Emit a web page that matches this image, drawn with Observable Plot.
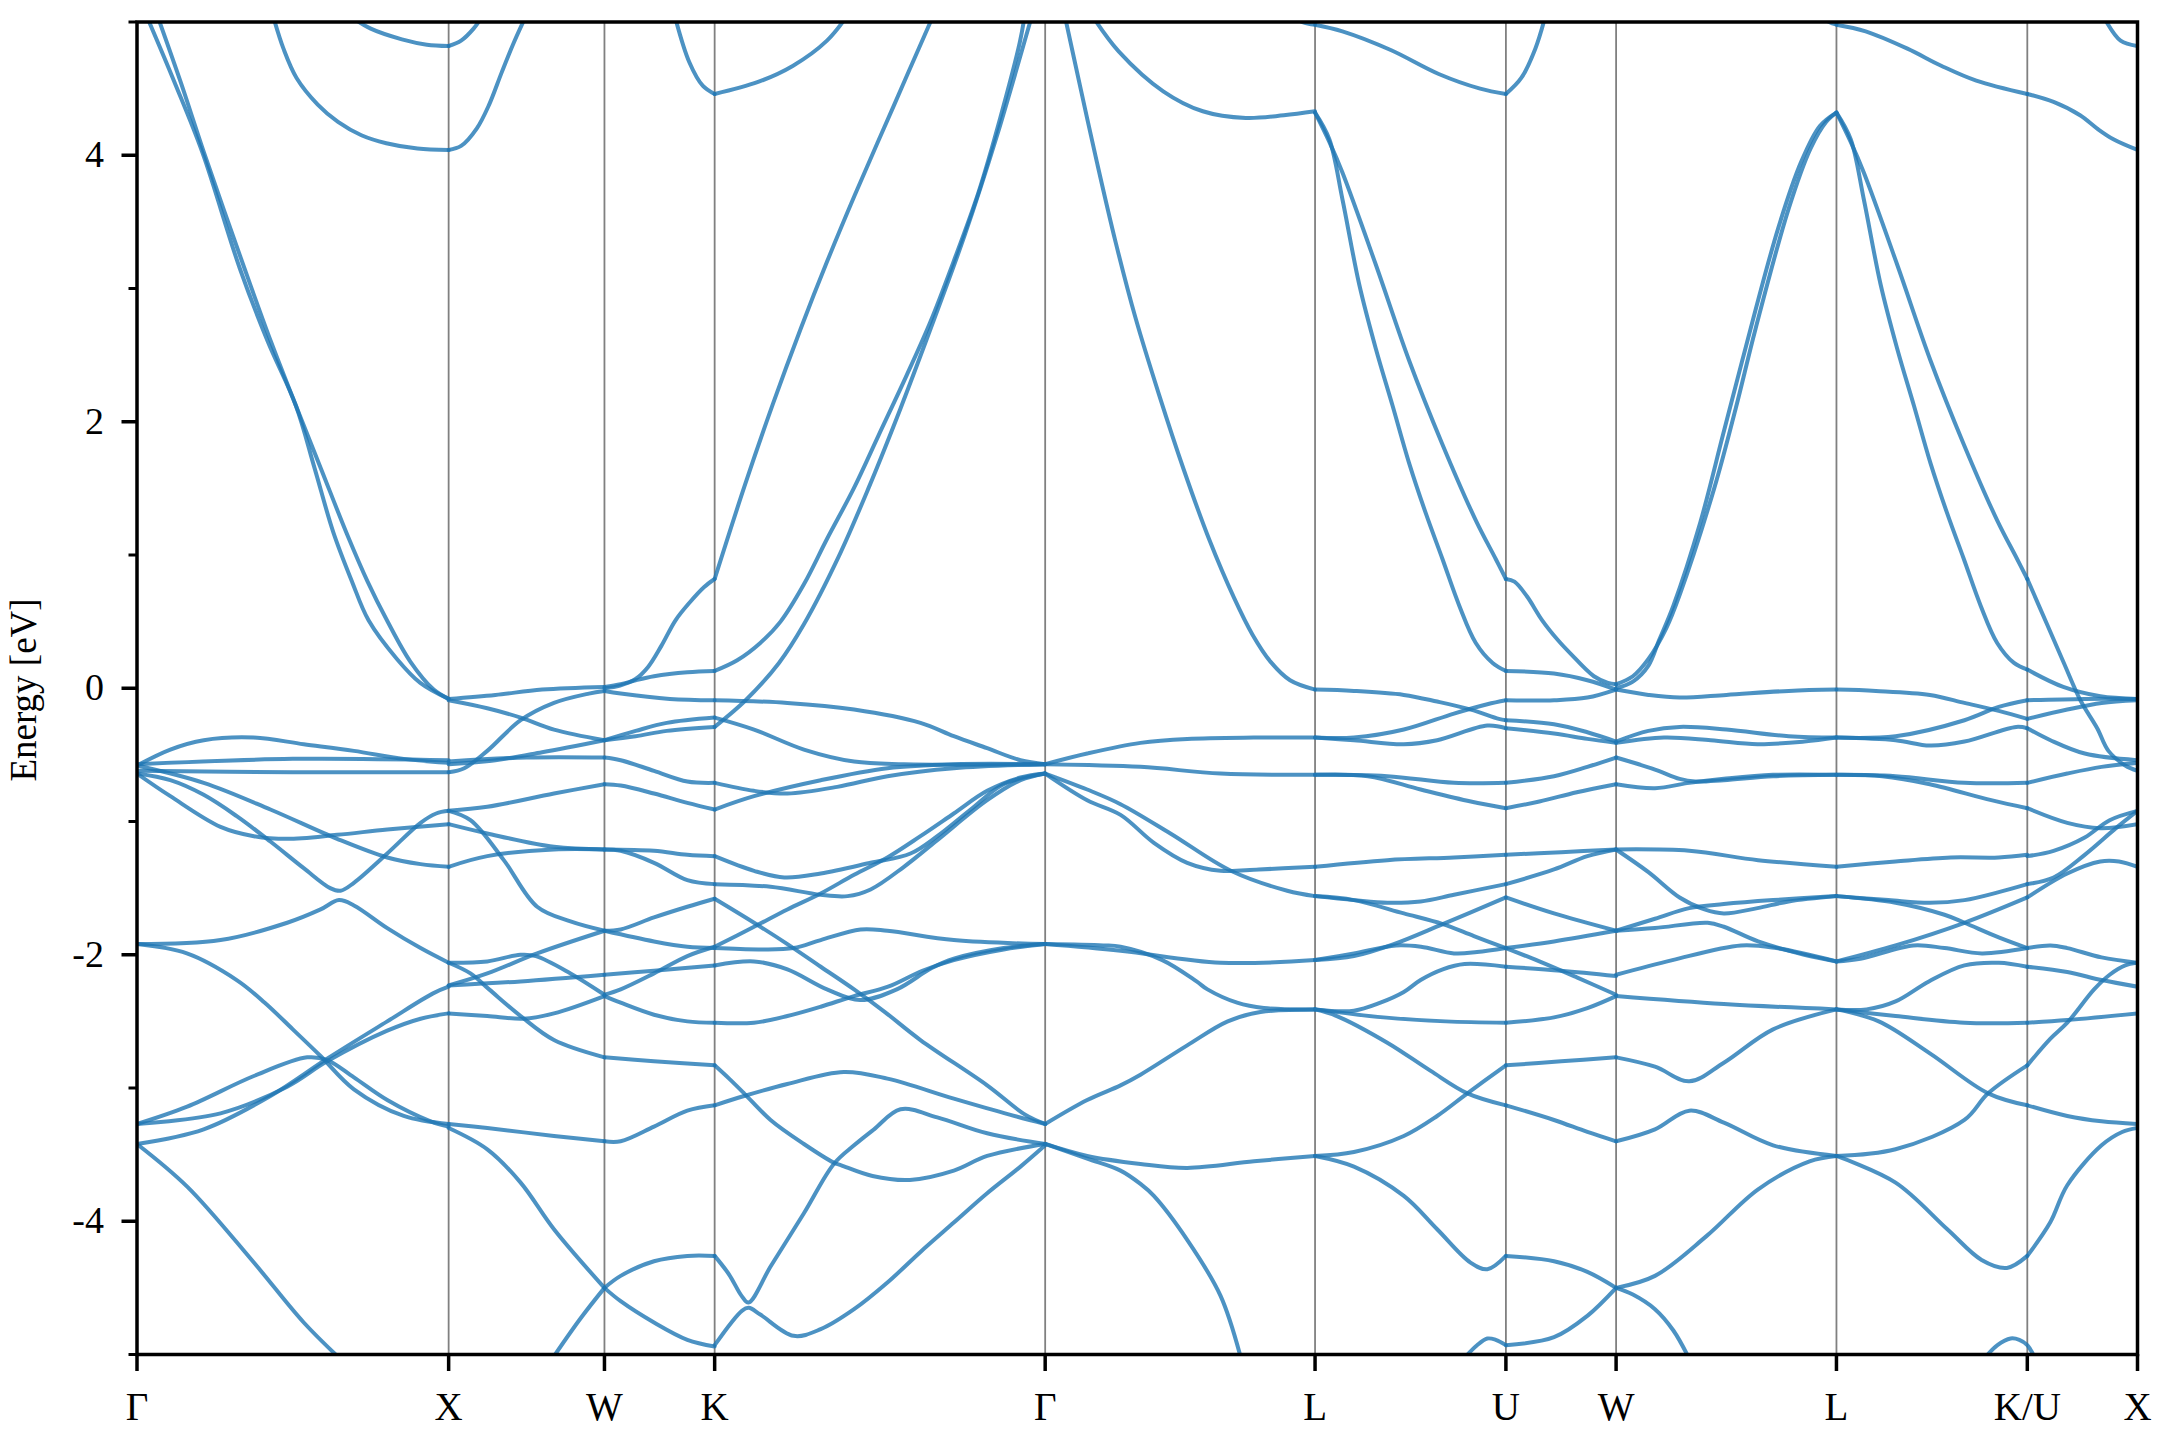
<!DOCTYPE html>
<html><head><meta charset="utf-8">
<script src="https://cdn.jsdelivr.net/npm/d3@7"></script>
<script src="https://cdn.jsdelivr.net/npm/@observablehq/plot@0.6"></script>
<style>html,body{margin:0;padding:0;background:#fff;}</style>
</head><body><div id="chart"></div>
<script>
// High-symmetry points along the k-path (cumulative path length, 2π/a units)
const symLabels = ["Γ","X","W","K","Γ","L","U","W","L","K/U","X"];
const symK = [0, 1, 1.5, 1.8536, 2.9142, 3.7802, 4.3926, 4.7462, 5.4533, 6.0657, 6.4193];
const yMajor = [-4, -2, 0, 2, 4];
const yMinor = [-5, -3, -1, 1, 3, 5];
const yLabel = "Energy [eV]";

// Band curves, one array per path segment; each curve is a list of [k, E(eV)]
const seg_G_X = [
 [[0.03,5.05],[0.12,4.55],[0.21,4.02],[0.33,3.15],[0.42,2.6],[0.51,2.12],[0.57,1.65],[0.63,1.17],[0.69,0.8],[0.743,0.51],[0.834,0.22],[0.909,0.04],[1,-0.08]],
 [[0.065,5.05],[0.14,4.55],[0.215,4.02],[0.345,3.15],[0.43,2.6],[0.51,2.12],[0.59,1.65],[0.675,1.15],[0.74,0.8],[0.802,0.51],[0.877,0.2],[0.952,-0.01],[1,-0.08]],
 [[0.436,5.05],[0.47,4.8],[0.512,4.58],[0.58,4.38],[0.645,4.25],[0.72,4.15],[0.8,4.09],[0.9,4.05],[1,4.04]],
 [[0.68,5.05],[0.75,4.95],[0.85,4.87],[0.93,4.83],[1,4.82]],
 [[0,-0.58],[0.107,-0.46],[0.214,-0.39],[0.375,-0.37],[0.535,-0.42],[0.696,-0.47],[0.856,-0.53],[1,-0.56]],
 [[0,-0.57],[0.5,-0.53],[1,-0.54]],
 [[0,-0.62],[0.5,-0.63],[1,-0.63]],
 [[0,-0.64],[0.107,-0.69],[0.214,-0.8],[0.32,-0.96],[0.428,-1.15],[0.535,-1.35],[0.62,-1.5],[0.653,-1.52],[0.696,-1.46],[0.803,-1.24],[0.91,-1.01],[0.96,-0.94],[1,-0.92]],
 [[0,-0.64],[0.107,-0.81],[0.268,-1.04],[0.375,-1.11],[0.482,-1.13],[0.642,-1.1],[0.803,-1.06],[1,-1.02]],
 [[0,-0.58],[0.214,-0.71],[0.428,-0.91],[0.642,-1.13],[0.803,-1.27],[0.91,-1.32],[1,-1.34]],
 [[0,-1.92],[0.268,-1.89],[0.482,-1.76],[0.589,-1.66],[0.648,-1.59],[0.696,-1.63],[0.803,-1.8],[0.91,-1.95],[1,-2.06]],
 [[0,-1.92],[0.16,-1.99],[0.32,-2.19],[0.41,-2.36],[0.5,-2.56],[0.589,-2.76],[0.696,-3.01],[0.856,-3.21],[1,-3.27]],
 [[0,-3.27],[0.161,-3.14],[0.375,-2.91],[0.546,-2.77],[0.61,-2.79],[0.696,-2.92],[0.803,-3.09],[0.942,-3.25],[1,-3.29]],
 [[0,-3.27],[0.268,-3.19],[0.482,-2.99],[0.61,-2.8],[0.803,-2.57],[0.91,-2.48],[1,-2.44]],
 [[0,-3.42],[0.214,-3.31],[0.428,-3.06],[0.61,-2.78],[0.803,-2.5],[0.95,-2.29],[1,-2.24]],
 [[0,-3.42],[0.161,-3.74],[0.375,-4.31],[0.535,-4.76],[0.66,-5.05]]
];
const seg_X_W = [
 [[1,4.04],[1.04,4.07],[1.09,4.2],[1.13,4.38],[1.17,4.62],[1.21,4.85],[1.253,5.07]],
 [[1,4.82],[1.04,4.86],[1.08,4.95],[1.11,5.05]],
 [[1,-0.08],[1.15,-0.05],[1.3,-0.01],[1.5,0.01]],
 [[1,-0.09],[1.124,-0.15],[1.231,-0.22],[1.338,-0.31],[1.5,-0.39]],
 [[1,-0.63],[1.05,-0.6],[1.124,-0.47],[1.231,-0.24],[1.338,-0.11],[1.45,-0.04],[1.5,-0.02]],
 [[1,-0.57],[1.15,-0.54],[1.3,-0.48],[1.5,-0.39]],
 [[1,-0.55],[1.25,-0.52],[1.5,-0.52]],
 [[1,-0.92],[1.124,-0.89],[1.338,-0.79],[1.5,-0.72]],
 [[1,-1.02],[1.124,-1.09],[1.338,-1.19],[1.5,-1.21]],
 [[1,-1.34],[1.124,-1.26],[1.338,-1.21],[1.5,-1.21]],
 [[1,-0.92],[1.07,-0.99],[1.177,-1.29],[1.284,-1.64],[1.391,-1.75],[1.5,-1.82]],
 [[1,-2.06],[1.124,-2.05],[1.23,-2.0],[1.28,-2.01],[1.391,-2.14],[1.5,-2.3]],
 [[1,-2.06],[1.07,-2.14],[1.13,-2.26],[1.231,-2.46],[1.338,-2.64],[1.5,-2.77]],
 [[1,-2.23],[1.124,-2.14],[1.284,-1.99],[1.5,-1.82]],
 [[1,-2.23],[1.231,-2.2],[1.5,-2.15]],
 [[1,-2.44],[1.124,-2.46],[1.24,-2.48],[1.338,-2.44],[1.5,-2.31]],
 [[1,-3.27],[1.124,-3.3],[1.338,-3.36],[1.5,-3.4]],
 [[1,-3.3],[1.124,-3.46],[1.231,-3.71],[1.338,-4.06],[1.5,-4.5]],
 [[1.327,-5.05],[1.423,-4.73],[1.5,-4.5]]
];
const seg_W_K = [
 [[1.725,5.05],[1.772,4.7],[1.816,4.52],[1.8536,4.46]],
 [[1.5,0.01],[1.552,0.03],[1.6,0.06],[1.659,0.09],[1.766,0.12],[1.8536,0.13]],
 [[1.5,0.0],[1.55,0.02],[1.6,0.07],[1.64,0.16],[1.683,0.32],[1.728,0.51],[1.772,0.64],[1.82,0.76],[1.8536,0.82]],
 [[1.5,-0.02],[1.552,-0.04],[1.71,-0.08],[1.8536,-0.09]],
 [[1.5,-0.39],[1.6,-0.32],[1.7,-0.26],[1.8536,-0.22]],
 [[1.5,-0.39],[1.6,-0.36],[1.7,-0.32],[1.8536,-0.29]],
 [[1.5,-0.52],[1.552,-0.54],[1.659,-0.62],[1.766,-0.7],[1.8536,-0.71]],
 [[1.5,-0.72],[1.552,-0.73],[1.659,-0.79],[1.766,-0.86],[1.8536,-0.91]],
 [[1.5,-1.21],[1.659,-1.22],[1.766,-1.25],[1.8536,-1.26]],
 [[1.5,-1.21],[1.552,-1.22],[1.659,-1.31],[1.766,-1.44],[1.8536,-1.47]],
 [[1.5,-1.82],[1.552,-1.81],[1.659,-1.72],[1.766,-1.64],[1.8536,-1.58]],
 [[1.5,-1.82],[1.659,-1.9],[1.766,-1.94],[1.8536,-1.95]],
 [[1.5,-2.3],[1.552,-2.26],[1.659,-2.14],[1.766,-2.01],[1.8536,-1.94]],
 [[1.5,-2.15],[1.659,-2.12],[1.8536,-2.08]],
 [[1.5,-2.31],[1.552,-2.36],[1.659,-2.45],[1.766,-2.5],[1.8536,-2.51]],
 [[1.5,-2.77],[1.659,-2.8],[1.8536,-2.83]],
 [[1.5,-3.4],[1.552,-3.4],[1.659,-3.29],[1.766,-3.17],[1.8536,-3.13]],
 [[1.5,-4.5],[1.552,-4.41],[1.659,-4.3],[1.766,-4.26],[1.8536,-4.26]],
 [[1.5,-4.5],[1.552,-4.6],[1.659,-4.76],[1.766,-4.89],[1.8536,-4.94]]
];
const seg_K_G = [
 [[1.8536,4.46],[1.993,4.55],[2.104,4.67],[2.214,4.86],[2.28,5.05]],
 [[1.8536,0.82],[1.95,1.52],[2.04,2.13],[2.13,2.7],[2.214,3.2],[2.303,3.7],[2.43,4.38],[2.546,5.0],[2.56,5.07]],
 [[1.8536,0.13],[1.926,0.21],[2.0,0.34],[2.065,0.5],[2.14,0.78],[2.214,1.12],[2.3,1.5],[2.38,1.9],[2.47,2.35],[2.546,2.75],[2.62,3.2],[2.7,3.72],[2.77,4.28],[2.833,4.85],[2.85,5.07]],
 [[1.8536,-0.29],[1.953,-0.09],[2.06,0.19],[2.14,0.48],[2.25,0.98],[2.347,1.5],[2.45,2.1],[2.55,2.72],[2.656,3.4],[2.76,4.15],[2.866,5.0],[2.875,5.07]],
 [[1.8536,-0.09],[2.087,-0.11],[2.301,-0.16],[2.514,-0.26],[2.621,-0.36],[2.728,-0.45],[2.835,-0.54],[2.9142,-0.57]],
 [[1.8536,-0.22],[1.98,-0.31],[2.14,-0.46],[2.301,-0.55],[2.461,-0.57],[2.9142,-0.57]],
 [[1.8536,-0.71],[1.98,-0.77],[2.087,-0.79],[2.247,-0.74],[2.408,-0.66],[2.621,-0.6],[2.9142,-0.57]],
 [[1.8536,-0.91],[1.98,-0.81],[2.194,-0.69],[2.408,-0.6],[2.621,-0.57],[2.9142,-0.57]],
 [[1.8536,-1.26],[1.98,-1.37],[2.077,-1.42],[2.194,-1.39],[2.354,-1.31],[2.482,-1.24],[2.568,-1.11],[2.675,-0.91],[2.781,-0.72],[2.9142,-0.64]],
 [[1.8536,-1.47],[2.033,-1.49],[2.194,-1.55],[2.28,-1.56],[2.354,-1.51],[2.461,-1.34],[2.568,-1.14],[2.728,-0.84],[2.835,-0.69],[2.9142,-0.64]],
 [[1.8536,-1.94],[1.98,-1.79],[2.087,-1.66],[2.194,-1.54],[2.301,-1.4],[2.408,-1.27],[2.514,-1.11],[2.621,-0.94],[2.728,-0.77],[2.835,-0.67],[2.9142,-0.64]],
 [[1.8536,-1.58],[1.98,-1.76],[2.087,-1.92],[2.194,-2.09],[2.301,-2.26],[2.4,-2.43],[2.514,-2.64],[2.728,-2.98],[2.85,-3.2],[2.9142,-3.27]],
 [[1.8536,-1.95],[1.998,-1.96],[2.107,-1.95],[2.194,-1.89],[2.322,-1.81],[2.408,-1.82],[2.621,-1.89],[2.9142,-1.92]],
 [[1.8536,-2.08],[1.98,-2.05],[2.087,-2.11],[2.214,-2.26],[2.32,-2.34],[2.438,-2.26],[2.55,-2.1],[2.621,-2.03],[2.781,-1.95],[2.9142,-1.92]],
 [[1.8536,-2.51],[1.98,-2.51],[2.087,-2.46],[2.194,-2.39],[2.301,-2.31],[2.41,-2.24],[2.52,-2.12],[2.621,-2.04],[2.781,-1.96],[2.9142,-1.92]],
 [[1.8536,-2.83],[1.9,-2.93],[1.948,-3.04],[2.033,-3.24],[2.14,-3.42],[2.236,-3.56],[2.26,-3.58],[2.36,-3.66],[2.48,-3.69],[2.621,-3.62],[2.728,-3.51],[2.9142,-3.42]],
 [[1.8536,-3.13],[1.948,-3.06],[2.087,-2.97],[2.268,-2.88],[2.408,-2.93],[2.621,-3.08],[2.8,-3.2],[2.9142,-3.27]],
 [[1.8536,-4.26],[1.9,-4.4],[1.94,-4.56],[1.962,-4.61],[2.033,-4.34],[2.14,-3.94],[2.236,-3.57],[2.301,-3.43],[2.365,-3.31],[2.45,-3.16],[2.568,-3.22],[2.728,-3.34],[2.9142,-3.42]],
 [[1.8536,-4.93],[1.942,-4.67],[1.963,-4.65],[2.0,-4.7],[2.107,-4.86],[2.194,-4.81],[2.301,-4.66],[2.408,-4.46],[2.514,-4.23],[2.621,-4.01],[2.728,-3.79],[2.835,-3.59],[2.9142,-3.43]]
];
const seg_G_L = [
 [[2.975,5.07],[3.028,4.5],[3.08,3.95],[3.14,3.35],[3.204,2.78],[3.28,2.2],[3.359,1.64],[3.44,1.12],[3.52,0.68],[3.58,0.4],[3.637,0.2],[3.7,0.06],[3.7802,-0.01]],
 [[3.07,5.03],[3.15,4.78],[3.293,4.48],[3.42,4.33],[3.558,4.28],[3.68,4.3],[3.7802,4.33]],
 [[3.7,5.05],[3.74,5.0],[3.7802,4.98]],
 [[2.9142,-0.57],[3.049,-0.49],[3.22,-0.41],[3.37,-0.38],[3.584,-0.37],[3.7802,-0.37]],
 [[2.9142,-0.57],[3.22,-0.59],[3.477,-0.64],[3.7802,-0.65]],
 [[2.9142,-0.64],[3.049,-0.76],[3.156,-0.87],[3.316,-1.09],[3.51,-1.37],[3.691,-1.52],[3.7802,-1.56]],
 [[2.9142,-0.64],[3.049,-0.84],[3.156,-0.95],[3.263,-1.16],[3.37,-1.31],[3.477,-1.37],[3.6,-1.36],[3.7802,-1.34]],
 [[2.9142,-1.92],[3.156,-1.97],[3.477,-2.06],[3.7802,-2.04]],
 [[2.9142,-1.92],[3.1,-1.93],[3.156,-1.94],[3.29,-2.04],[3.4,-2.2],[3.435,-2.26],[3.53,-2.36],[3.616,-2.4],[3.7802,-2.41]],
 [[2.9142,-3.27],[3.049,-3.09],[3.156,-2.98],[3.22,-2.9],[3.37,-2.68],[3.5,-2.5],[3.605,-2.43],[3.7802,-2.41]],
 [[2.9142,-3.42],[3.049,-3.51],[3.22,-3.57],[3.37,-3.6],[3.584,-3.55],[3.7802,-3.51]],
 [[2.9142,-3.42],[3.049,-3.53],[3.156,-3.62],[3.22,-3.72],[3.263,-3.81],[3.37,-4.14],[3.477,-4.56],[3.545,-5.05]]
];
const seg_L_U = [
 [[3.7802,4.32],[3.826,4.12],[3.868,3.67],[3.922,3.03],[3.975,2.55],[4.029,2.12],[4.082,1.69],[4.136,1.31],[4.189,0.97],[4.243,0.62],[4.296,0.34],[4.35,0.19],[4.3926,0.13]],
 [[3.7802,4.32],[3.826,4.1],[3.868,3.87],[3.975,3.18],[4.082,2.46],[4.189,1.83],[4.296,1.26],[4.36,0.97],[4.3926,0.82]],
 [[3.7802,4.98],[3.868,4.93],[4.023,4.79],[4.177,4.61],[4.31,4.5],[4.3926,4.46]],
 [[3.7802,-0.01],[3.905,-0.02],[4.065,-0.05],[4.172,-0.1],[4.28,-0.16],[4.37,-0.23],[4.3926,-0.24]],
 [[3.7802,-0.37],[3.905,-0.37],[4.065,-0.31],[4.226,-0.19],[4.333,-0.12],[4.3926,-0.09]],
 [[3.7802,-0.37],[3.905,-0.39],[4.065,-0.42],[4.172,-0.39],[4.333,-0.28],[4.3926,-0.3]],
 [[3.7802,-0.65],[4.012,-0.66],[4.226,-0.71],[4.3926,-0.71]],
 [[3.7802,-0.65],[3.95,-0.66],[4.119,-0.76],[4.28,-0.85],[4.3926,-0.9]],
 [[3.7802,-1.34],[4.012,-1.29],[4.226,-1.27],[4.3926,-1.25]],
 [[3.7802,-1.56],[3.905,-1.59],[4.012,-1.61],[4.119,-1.6],[4.226,-1.55],[4.3926,-1.47]],
 [[3.7802,-1.56],[3.905,-1.59],[4.065,-1.69],[4.19,-1.77],[4.29,-1.86],[4.3926,-1.95]],
 [[3.7802,-2.04],[3.905,-2.01],[4.033,-1.92],[4.19,-1.77],[4.3926,-1.57]],
 [[3.7802,-2.04],[3.905,-1.99],[4.04,-1.93],[4.12,-1.94],[4.226,-1.99],[4.3,-1.98],[4.3926,-1.95]],
 [[3.7802,-2.41],[3.905,-2.42],[3.99,-2.36],[4.065,-2.28],[4.119,-2.19],[4.19,-2.11],[4.26,-2.07],[4.3926,-2.09]],
 [[3.7802,-2.41],[4.0,-2.47],[4.2,-2.5],[4.3926,-2.51]],
 [[3.7802,-3.51],[3.905,-3.59],[4.065,-3.81],[4.172,-4.06],[4.279,-4.31],[4.333,-4.36],[4.3926,-4.26]],
 [[3.7802,-2.41],[3.85,-2.46],[4.012,-2.66],[4.15,-2.87],[4.269,-3.04],[4.3926,-3.13]],
 [[3.7802,-3.51],[3.905,-3.48],[4.065,-3.36],[4.172,-3.21],[4.269,-3.04],[4.3926,-2.83]],
 [[4.25,-5.05],[4.3,-4.93],[4.333,-4.88],[4.36,-4.89],[4.3926,-4.93]]
];
const seg_U_W = [
 [[4.3926,0.82],[4.42,0.8],[4.46,0.69],[4.509,0.51],[4.56,0.36],[4.6,0.26],[4.675,0.09],[4.72,0.04],[4.7462,0.03]],
 [[4.3926,4.46],[4.442,4.58],[4.487,4.8],[4.52,5.05]],
 [[4.3926,0.13],[4.547,0.11],[4.654,0.06],[4.7462,-0.01]],
 [[4.3926,-0.09],[4.547,-0.09],[4.654,-0.07],[4.7462,-0.01]],
 [[4.3926,-0.24],[4.547,-0.27],[4.654,-0.33],[4.7462,-0.4]],
 [[4.3926,-0.3],[4.547,-0.34],[4.654,-0.38],[4.7462,-0.41]],
 [[4.3926,-0.71],[4.547,-0.66],[4.654,-0.59],[4.7462,-0.52]],
 [[4.3926,-0.9],[4.5,-0.85],[4.62,-0.78],[4.7462,-0.72]],
 [[4.3926,-1.25],[4.57,-1.23],[4.7462,-1.21]],
 [[4.3926,-1.47],[4.547,-1.36],[4.654,-1.26],[4.7462,-1.21]],
 [[4.3926,-1.57],[4.547,-1.69],[4.7462,-1.82]],
 [[4.3926,-1.95],[4.547,-1.9],[4.7462,-1.82]],
 [[4.3926,-1.95],[4.5,-2.05],[4.62,-2.17],[4.7462,-2.3]],
 [[4.3926,-2.09],[4.57,-2.12],[4.7462,-2.16]],
 [[4.3926,-2.51],[4.547,-2.47],[4.654,-2.4],[4.7462,-2.31]],
 [[4.3926,-2.83],[4.57,-2.8],[4.7462,-2.77]],
 [[4.3926,-3.13],[4.547,-3.24],[4.654,-3.33],[4.7462,-3.4]],
 [[4.3926,-4.26],[4.547,-4.3],[4.654,-4.38],[4.7462,-4.5]],
 [[4.3926,-4.93],[4.547,-4.87],[4.654,-4.71],[4.7462,-4.5]]
];
const seg_W_L = [
 [[4.7462,0.0],[4.8,0.05],[4.85,0.17],[4.884,0.36],[4.93,0.62],[5.017,1.25],[5.089,1.9],[5.15,2.45],[5.266,3.45],[5.34,3.95],[5.4,4.22],[5.4533,4.32]],
 [[4.7462,0.03],[4.8,0.09],[4.85,0.22],[4.907,0.45],[4.95,0.7],[5.061,1.5],[5.13,2.1],[5.194,2.7],[5.3,3.6],[5.37,4.05],[5.42,4.25],[5.4533,4.32]],
 [[5.4,5.05],[5.43,5.0],[5.4533,4.98]],
 [[4.7462,-0.01],[4.85,-0.05],[4.95,-0.07],[5.1,-0.05],[5.3,-0.02],[5.4533,-0.01]],
 [[4.7462,-0.4],[4.85,-0.32],[4.95,-0.29],[5.1,-0.31],[5.3,-0.36],[5.4533,-0.37]],
 [[4.7462,-0.41],[4.9,-0.37],[5.05,-0.39],[5.2,-0.42],[5.35,-0.4],[5.4533,-0.37]],
 [[4.7462,-0.52],[4.871,-0.61],[4.95,-0.68],[5.0,-0.7],[5.092,-0.69],[5.25,-0.66],[5.4533,-0.65]],
 [[4.7462,-0.72],[4.871,-0.75],[4.981,-0.71],[5.092,-0.68],[5.25,-0.65],[5.4533,-0.65]],
 [[4.7462,-1.21],[4.981,-1.22],[5.202,-1.29],[5.4533,-1.34]],
 [[4.7462,-1.21],[4.85,-1.38],[4.95,-1.57],[5.03,-1.66],[5.092,-1.69],[5.2,-1.65],[5.3,-1.6],[5.4533,-1.56]],
 [[4.7462,-1.82],[4.871,-1.73],[4.981,-1.65],[5.092,-1.62],[5.25,-1.59],[5.4533,-1.56]],
 [[4.7462,-1.82],[4.871,-1.8],[5.04,-1.76],[5.092,-1.79],[5.202,-1.9],[5.35,-2.0],[5.4533,-2.05]],
 [[4.7462,-2.15],[4.927,-2.04],[5.147,-1.93],[5.26,-1.95],[5.4533,-2.05]],
 [[4.7462,-2.31],[5.092,-2.37],[5.4533,-2.41]],
 [[4.7462,-2.77],[4.871,-2.84],[4.981,-2.95],[5.092,-2.81],[5.25,-2.56],[5.4533,-2.41]],
 [[4.7462,-3.4],[4.871,-3.31],[4.981,-3.17],[5.092,-3.26],[5.25,-3.43],[5.4533,-3.51]],
 [[4.7462,-4.5],[4.871,-4.41],[5.037,-4.11],[5.202,-3.76],[5.367,-3.55],[5.4533,-3.51]],
 [[4.7462,-4.5],[4.8,-4.55],[4.871,-4.66],[4.93,-4.82],[4.985,-5.05]]
];
const seg_L_KU = [
 [[5.4533,4.32],[5.499,4.12],[5.541,3.67],[5.595,3.03],[5.648,2.55],[5.702,2.12],[5.755,1.69],[5.809,1.31],[5.862,0.97],[5.916,0.62],[5.969,0.34],[6.023,0.19],[6.0657,0.14]],
 [[5.4533,4.32],[5.499,4.1],[5.541,3.87],[5.648,3.18],[5.755,2.46],[5.862,1.83],[5.969,1.26],[6.033,0.97],[6.0657,0.82]],
 [[5.4533,4.98],[5.547,4.93],[5.681,4.8],[5.791,4.67],[5.902,4.56],[6.0657,4.46]],
 [[5.4533,-0.01],[5.58,-0.02],[5.753,-0.05],[5.864,-0.11],[5.974,-0.17],[6.0657,-0.23]],
 [[5.4533,-0.37],[5.643,-0.36],[5.864,-0.24],[5.974,-0.14],[6.0657,-0.09]],
 [[5.4533,-0.37],[5.643,-0.39],[5.753,-0.43],[5.864,-0.4],[6.03,-0.29],[6.0657,-0.3]],
 [[5.4533,-0.65],[5.643,-0.66],[5.864,-0.71],[6.0657,-0.71]],
 [[5.4533,-0.65],[5.6,-0.66],[5.753,-0.72],[5.95,-0.84],[6.0657,-0.9]],
 [[5.4533,-1.34],[5.643,-1.3],[5.82,-1.27],[5.974,-1.27],[6.0657,-1.25]],
 [[5.4533,-1.56],[5.62,-1.59],[5.753,-1.61],[5.864,-1.59],[5.974,-1.53],[6.0657,-1.47]],
 [[5.4533,-1.56],[5.643,-1.61],[5.8,-1.7],[5.864,-1.76],[5.974,-1.87],[6.0657,-1.95]],
 [[5.4533,-2.05],[5.643,-1.93],[5.864,-1.76],[6.0657,-1.57]],
 [[5.4533,-2.05],[5.53,-2.03],[5.7,-1.93],[5.8,-1.95],[5.92,-1.99],[6.0657,-1.95]],
 [[5.4533,-2.41],[5.55,-2.41],[5.643,-2.35],[5.75,-2.2],[5.864,-2.08],[5.974,-2.06],[6.0657,-2.09]],
 [[5.4533,-2.41],[5.643,-2.46],[5.864,-2.51],[6.0657,-2.51]],
 [[5.4533,-2.41],[5.589,-2.5],[5.753,-2.74],[5.94,-3.04],[6.0657,-3.13]],
 [[5.4533,-3.51],[5.643,-3.46],[5.864,-3.24],[5.94,-3.04],[6.0657,-2.83]],
 [[5.4533,-3.51],[5.643,-3.71],[5.809,-4.06],[5.919,-4.29],[6.0,-4.35],[6.0657,-4.26]],
 [[5.92,-5.05],[5.97,-4.93],[6.012,-4.88],[6.04,-4.89],[6.0657,-4.93],[6.095,-5.05]]
];
const seg_KU_X = [
 [[6.0657,0.82],[6.129,0.48],[6.183,0.19],[6.236,-0.09],[6.29,-0.3],[6.326,-0.47],[6.38,-0.58],[6.4193,-0.62]],
 [[6.0657,0.14],[6.181,0.01],[6.3,-0.06],[6.4193,-0.08]],
 [[6.0657,4.46],[6.15,4.4],[6.235,4.3],[6.29,4.2],[6.342,4.12],[6.4193,4.04]],
 [[6.31,5.05],[6.32,5.0],[6.365,4.86],[6.4193,4.82]],
 [[6.0657,-0.09],[6.25,-0.08],[6.4193,-0.08]],
 [[6.0657,-0.23],[6.194,-0.16],[6.304,-0.11],[6.4193,-0.09]],
 [[6.0657,-0.3],[6.14,-0.39],[6.25,-0.49],[6.4193,-0.54]],
 [[6.0657,-0.71],[6.194,-0.64],[6.304,-0.59],[6.4193,-0.56]],
 [[6.0657,-0.9],[6.194,-1.01],[6.3,-1.05],[6.4193,-1.02]],
 [[6.0657,-1.26],[6.15,-1.22],[6.25,-1.12],[6.33,-0.99],[6.4193,-0.92]],
 [[6.0657,-1.47],[6.15,-1.42],[6.25,-1.25],[6.35,-1.05],[6.4193,-0.92]],
 [[6.0657,-1.57],[6.194,-1.39],[6.3,-1.3],[6.36,-1.3],[6.4193,-1.34]],
 [[6.0657,-1.95],[6.14,-1.93],[6.194,-1.95],[6.304,-2.02],[6.4193,-2.06]],
 [[6.0657,-2.09],[6.194,-2.13],[6.304,-2.19],[6.4193,-2.24]],
 [[6.0657,-2.51],[6.194,-2.49],[6.4193,-2.44]],
 [[6.0657,-2.83],[6.14,-2.63],[6.194,-2.51],[6.28,-2.26],[6.33,-2.15],[6.38,-2.08],[6.4193,-2.06]],
 [[6.0657,-3.13],[6.194,-3.21],[6.304,-3.25],[6.4193,-3.27]],
 [[6.0657,-4.26],[6.139,-4.01],[6.194,-3.73],[6.304,-3.43],[6.37,-3.33],[6.4193,-3.3]]
];

const segments = [seg_G_X, seg_X_W, seg_W_K, seg_K_G, seg_G_L, seg_L_U, seg_U_W, seg_W_L, seg_L_KU, seg_KU_X];
const rows = [];
segments.forEach((seg, si) => seg.forEach((curve, ci) =>
  curve.forEach(([k, E]) => rows.push({k, E, band: si + "-" + ci}))));

const serif = "'Liberation Serif', 'Times New Roman', serif";
const labelFor = d => symLabels[symK.findIndex(v => Math.abs(v - d) < 1e-9)];

const chart = Plot.plot({
  width: 2160, height: 1440,
  marginLeft: 136.5, marginRight: 23, marginTop: 21.5, marginBottom: 86,
  style: {fontFamily: serif, fontSize: "38px", background: "#fff", color: "#000"},
  x: {domain: [0, 6.4193]},
  y: {domain: [-5, 5]},
  marks: [
    Plot.ruleX(symK, {stroke: "#808080", strokeWidth: 1.8}),
    Plot.line(rows, {x: "k", y: "E", z: "band", stroke: "#1f77b4", strokeOpacity: 0.8,
      strokeWidth: 4, curve: "catmull-rom", clip: true}),
    Plot.axisY({ticks: yMinor, tickSize: 8, strokeWidth: 3, tickFormat: () => "", label: null}),
    Plot.axisY({ticks: yMajor, tickSize: 15, tickPadding: 18, strokeWidth: 3.5, fontSize: 38,
      tickFormat: d => (d < 0 ? "-" + (-d) : String(d)), label: null}),
    Plot.axisX({ticks: symK, tickSize: 17, tickPadding: 21, strokeWidth: 3.5, fontSize: 39,
      tickFormat: labelFor, label: null}),
    Plot.frame({stroke: "#000", strokeWidth: 3.5})
  ]
});
document.getElementById("chart").appendChild(chart);
d3.select(chart).append("text")
  .attr("transform", "translate(36,690) rotate(-90)")
  .attr("text-anchor", "middle")
  .attr("font-family", serif)
  .attr("font-size", 37)
  .attr("fill", "#000")
  .text(yLabel);
</script>
</body></html>
